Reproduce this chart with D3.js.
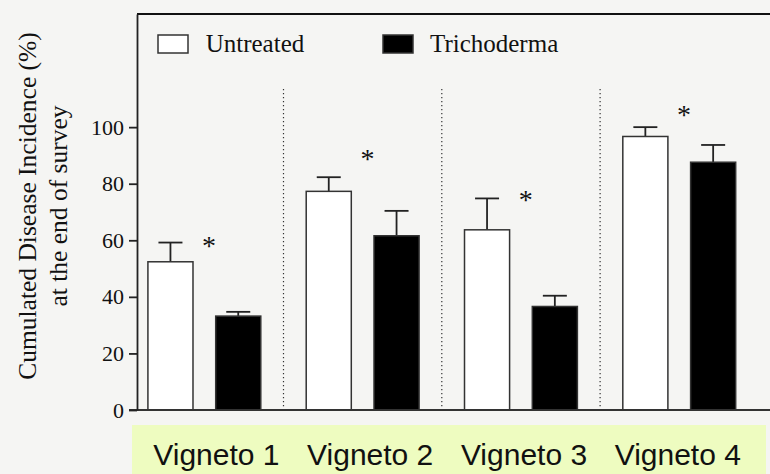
<!DOCTYPE html>
<html>
<head>
<meta charset="utf-8">
<script src="https://cdn.jsdelivr.net/npm/d3@7"></script>
<style>
  html, body { margin: 0; padding: 0; background: #f5f5f3; }
  svg { display: block; }
</style>
</head>
<body>
<div id="chart"></div>
<script>
// Data
const GROUPS = ['Vigneto 1', 'Vigneto 2', 'Vigneto 3', 'Vigneto 4'];
const SERIES = ['Untreated', 'Trichoderma'];
const UNTREATED = [52.4, 77.3, 63.7, 96.7];
const UNTREATED_ERR = [6.8, 5.0, 11.1, 3.3];
const TRICHODERMA = [33.2, 61.6, 36.6, 87.6];
const TRICHODERMA_ERR = [1.5, 8.8, 3.8, 6.1];
const STAR_LEVEL = [59.6, 90.5, 76, 106];   // where the "*" sits, in % units
const Y_TICKS = [0, 20, 40, 60, 80, 100];
const Y_TITLE = ['Cumulated Disease Incidence (%)', 'at the end of survey'];

const WIDTH = 770, HEIGHT = 474;
const SERIF = '"Liberation Serif", "Times New Roman", serif';
const SANS = '"Liberation Sans", Arial, sans-serif';
const FILLS = { Untreated: '#ffffff', Trichoderma: '#000000' };

const rows = GROUPS.map((g, i) => ({
    group: g,
    values: [
        { key: 'Untreated', value: UNTREATED[i], err: UNTREATED_ERR[i] },
        { key: 'Trichoderma', value: TRICHODERMA[i], err: TRICHODERMA_ERR[i] }
    ],
    star: STAR_LEVEL[i]
}));

const svg = d3.select('#chart').append('svg')
    .attr('width', WIDTH)
    .attr('height', HEIGHT);

// Scales
const x = d3.scaleBand().domain(GROUPS).range([125.2, 758.4]);
const xInner = d3.scaleBand().domain(SERIES).range([0, x.bandwidth()]).padding(0.335);
const y = d3.scaleLinear().domain([0, 140]).range([410, 14]);
const xLabel = d3.scaleBand().domain(GROUPS).range([139.5, 754.7]);

const AXIS_X = 137;

// Category label strip
svg.append('rect')
    .attr('x', 132).attr('y', 425)
    .attr('width', 634).attr('height', 49)
    .attr('fill', '#eefcc0');

svg.selectAll('.cat-label')
    .data(GROUPS).enter()
    .append('text')
    .attr('class', 'cat-label')
    .attr('x', d => xLabel(d) + xLabel.bandwidth() / 2)
    .attr('y', 465)
    .attr('text-anchor', 'middle')
    .style('font-family', SANS)
    .style('font-size', '30px')
    .attr('fill', '#111')
    .text(d => d);

// Dotted separators between groups
svg.selectAll('.sep')
    .data(GROUPS.slice(1)).enter()
    .append('line')
    .attr('class', 'sep')
    .attr('x1', d => x(d)).attr('x2', d => x(d))
    .attr('y1', y(113.5)).attr('y2', y(0))
    .attr('stroke', '#333')
    .attr('stroke-width', 1.2)
    .attr('stroke-dasharray', '1.4,2.6');

// Top frame line
svg.append('line')
    .attr('x1', AXIS_X).attr('x2', WIDTH)
    .attr('y1', y(140)).attr('y2', y(140))
    .attr('stroke', '#111').attr('stroke-width', 1.8);

// Groups
const groupSel = svg.selectAll('.group')
    .data(rows).enter()
    .append('g')
    .attr('class', 'group')
    .attr('transform', d => `translate(${x(d.group)},0)`);

// Error bars (drawn first so the bar top covers the stem start)
const errSel = groupSel.selectAll('.err')
    .data(d => d.values).enter()
    .append('g')
    .attr('class', 'err')
    .attr('stroke', '#222')
    .attr('stroke-width', 1.8);
errSel.append('line')
    .attr('x1', d => xInner(d.key) + xInner.bandwidth() / 2)
    .attr('x2', d => xInner(d.key) + xInner.bandwidth() / 2)
    .attr('y1', d => y(d.value))
    .attr('y2', d => y(d.value + d.err));
errSel.append('line')
    .attr('x1', d => xInner(d.key) + xInner.bandwidth() / 2 - 12)
    .attr('x2', d => xInner(d.key) + xInner.bandwidth() / 2 + 12)
    .attr('y1', d => y(d.value + d.err))
    .attr('y2', d => y(d.value + d.err));

// Bars
groupSel.selectAll('.bar')
    .data(d => d.values).enter()
    .append('rect')
    .attr('class', 'bar')
    .attr('x', d => xInner(d.key))
    .attr('y', d => y(d.value))
    .attr('width', xInner.bandwidth())
    .attr('height', d => y(0) - y(d.value))
    .attr('fill', d => FILLS[d.key])
    .attr('stroke', '#333')
    .attr('stroke-width', 1.5);

// Significance stars
groupSel.append('text')
    .attr('x', x.bandwidth() * 0.53)
    .attr('y', d => y(d.star) + 13.5)
    .attr('text-anchor', 'middle')
    .style('font-family', SERIF)
    .style('font-size', '28px')
    .attr('fill', '#111')
    .text('*');

// Baseline
svg.append('line')
    .attr('x1', 129).attr('x2', WIDTH)
    .attr('y1', y(0)).attr('y2', y(0))
    .attr('stroke', '#333').attr('stroke-width', 1.8);

// Y axis
const yAxis = d3.axisLeft(y)
    .tickValues(Y_TICKS)
    .tickSize(8)
    .tickSizeOuter(0)
    .tickPadding(5);
const yAxisG = svg.append('g')
    .attr('transform', `translate(${AXIS_X},0)`)
    .call(yAxis);
yAxisG.select('.domain').attr('stroke', '#222').attr('stroke-width', 1.8);
yAxisG.selectAll('.tick line').attr('stroke', '#222').attr('stroke-width', 1.8);
yAxisG.selectAll('.tick text')
    .style('font-family', SERIF)
    .style('font-size', '22px')
    .attr('fill', '#111');

// Y title (two lines)
svg.selectAll('.y-title')
    .data(Y_TITLE).enter()
    .append('text')
    .attr('class', 'y-title')
    .attr('transform', (d, i) => `translate(${36 + i * 31},206) rotate(-90)`)
    .attr('text-anchor', 'middle')
    .style('font-family', SERIF)
    .style('font-size', '25.5px')
    .attr('fill', '#111')
    .text(d => d);

// Legend
const LEGEND_POS = [{ box: 158, text: 205.7 }, { box: 383, text: 430 }];
const legend = svg.selectAll('.legend')
    .data(SERIES).enter()
    .append('g')
    .attr('class', 'legend');
legend.append('rect')
    .attr('x', (d, i) => LEGEND_POS[i].box)
    .attr('y', 35)
    .attr('width', 30).attr('height', 18)
    .attr('fill', d => FILLS[d])
    .attr('stroke', '#333').attr('stroke-width', 1.5);
legend.append('text')
    .attr('x', (d, i) => LEGEND_POS[i].text)
    .attr('y', 52)
    .style('font-family', SERIF)
    .style('font-size', '25px')
    .attr('fill', '#111')
    .text(d => d);
</script>
</body>
</html>
